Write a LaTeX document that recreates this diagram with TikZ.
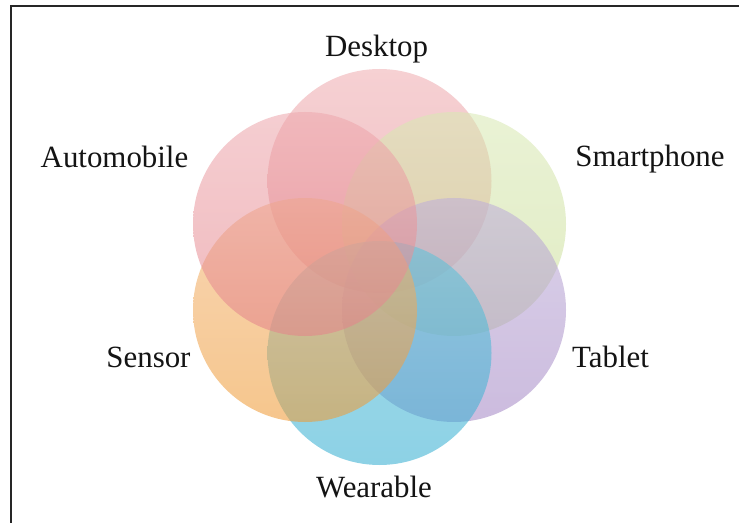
\documentclass[tikz,border=0pt]{standalone}
\usepackage{fontspec}
\setmainfont{Liberation Serif}
\begin{document}
\definecolor{deskTop}{HTML}{EFADB1}
\definecolor{deskBot}{HTML}{E68A90}
\definecolor{autoTop}{HTML}{EEA8AE}
\definecolor{autoBot}{HTML}{E4838A}
\definecolor{phoneTop}{HTML}{D9E9B4}
\definecolor{phoneBot}{HTML}{CADE96}
\definecolor{tabTop}{HTML}{BFAFD9}
\definecolor{tabBot}{HTML}{A487C5}
\definecolor{wearTop}{HTML}{5EC4DA}
\definecolor{wearBot}{HTML}{34AED2}
\definecolor{sensTop}{HTML}{F3B678}
\definecolor{sensBot}{HTML}{EF9A34}
\begin{tikzpicture}[x=1bp,y=-1bp,
  petal/.style={circle, draw=none, minimum size=224bp, inner sep=0pt,
                fill opacity=0.56, shading=axis, shading angle=0},
  lbl/.style={font=\fontsize{31}{34}\selectfont, anchor=base,
              inner sep=0pt, text=black!92}]
\useasboundingbox (0,0) rectangle (739,523);
\fill[white] (0,0) rectangle (739,523);
% frame, open at the right and bottom
\draw[line width=2bp, black!85] (10.5,523) -- (10.5,6.5) -- (739,6.5);

% six overlapping petals on a hexagon around (379.5,267)
\node[petal, top color=deskTop,  bottom color=deskBot]  (desk)  at (379.5,181) {};
\node[petal, top color=phoneTop, bottom color=phoneBot] (phone) at (454,224) {};
\node[petal, top color=tabTop,   bottom color=tabBot]   (tab)   at (454,310) {};
\node[petal, top color=wearTop,  bottom color=wearBot]  (wear)  at (379.5,353) {};
\node[petal, top color=sensTop,  bottom color=sensBot]  (sens)  at (305,310) {};
\node[petal, top color=autoTop,  bottom color=autoBot]  (auto)  at (305,224) {};

% labels
\node[lbl] (ldesk)  at (376.5,57)  {Desktop};
\node[lbl] (lauto)  at (114.5,168) {Automobile};
\node[lbl] (lphone) at (650,167)   {Smartphone};
\node[lbl] (lsens)  at (148.5,367) {Sensor};
\node[lbl] (ltab)   at (610.5,367) {Tablet};
\node[lbl] (lwear)  at (374,497)   {Wearable};
\end{tikzpicture}
\end{document}
